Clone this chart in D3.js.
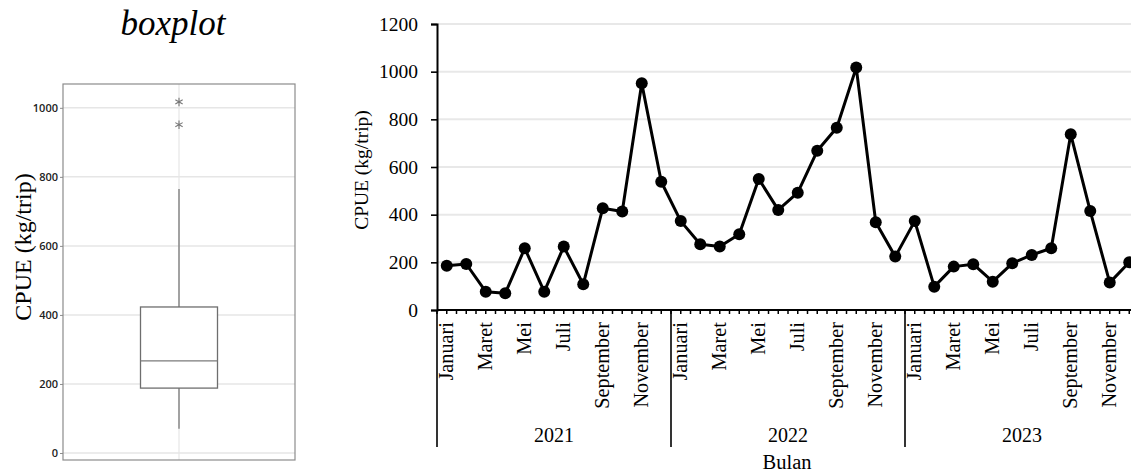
<!DOCTYPE html>
<html>
<head>
<meta charset="utf-8">
<script src="https://cdn.jsdelivr.net/npm/d3@7"></script>
<style>
  html, body { margin: 0; padding: 0; background: #fff; }
  svg { display: block; }
</style>
</head>
<body>
<svg id="chart" width="1131" height="474"></svg>
<script>
// ---------- DATA ----------
const months = ["Januari","Februari","Maret","April","Mei","Juni","Juli","Agustus","September","Oktober","November","Desember"];
const years = ["2021","2022","2023"];
const cpue = [
  186, 193, 77, 70, 259, 77, 266, 108, 427, 413, 951, 538,
  373, 276, 266, 318, 550, 420, 492, 668, 765, 1017, 368, 224,
  373, 98, 182, 192, 119, 196, 231, 259, 737, 415, 115, 200
];
const lineTicks = [0, 200, 400, 600, 800, 1000, 1200];

// boxplot statistics
const boxCategory = ["CPUE"];
const boxLowerWhisker = [70];
const boxQ1 = [188];
const boxMedian = [267];
const boxQ3 = [423];
const boxUpperWhisker = [765];
const boxOutliers = [951, 1017];
const boxTicks = [0, 200, 400, 600, 800, 1000];

const svg = d3.select("#chart");
const serif = "'Liberation Serif', 'Times New Roman', serif";
const sans = "'Open Sans', 'Noto Sans', sans-serif";
const fmt = d3.format("d");

// ---------- BOXPLOT PANEL ----------
const bp = {left: 63, right: 295, top: 84, bottom: 460};
const by = d3.scaleLinear().domain([-20.3, 1069]).range([bp.bottom, bp.top]);
const bx = d3.scalePoint().domain(boxCategory).range([bp.left, bp.right]).padding(0.5);
const boxW = 77;

svg.append("text")
  .attr("x", 173).attr("y", 35)
  .attr("text-anchor", "middle")
  .attr("font-family", serif).attr("font-style", "italic")
  .attr("font-size", 35).attr("fill", "#000")
  .text("boxplot");

const bg = svg.append("g");
bg.selectAll("line.hgrid").data(boxTicks).join("line")
  .attr("class", "hgrid")
  .attr("x1", bp.left).attr("x2", bp.right)
  .attr("y1", d => by(d)).attr("y2", d => by(d))
  .attr("stroke", "#e6e6e6").attr("stroke-width", 1.5);
bg.selectAll("line.vgrid").data(boxCategory).join("line")
  .attr("class", "vgrid")
  .attr("x1", d => bx(d)).attr("x2", d => bx(d))
  .attr("y1", bp.top).attr("y2", bp.bottom)
  .attr("stroke", "#e6e6e6").attr("stroke-width", 1.2);
bg.append("rect")
  .attr("x", bp.left).attr("y", bp.top)
  .attr("width", bp.right - bp.left).attr("height", bp.bottom - bp.top)
  .attr("fill", "none").attr("stroke", "#8c8c8c").attr("stroke-width", 1.2);
const bAxis = bg.append("g").attr("transform", `translate(${bp.left},0)`)
  .call(d3.axisLeft(by).tickValues(boxTicks).tickFormat(fmt).tickSize(3).tickPadding(2));
bAxis.select(".domain").remove();
bAxis.selectAll(".tick line").attr("stroke", "#8c8c8c");
bAxis.selectAll(".tick text")
  .attr("font-family", sans).attr("font-size", 11).attr("font-weight", 600).attr("fill", "#222");

boxCategory.forEach((c, i) => {
  const cx = bx(c);
  bg.append("line")
    .attr("x1", cx).attr("x2", cx)
    .attr("y1", by(boxQ3[i])).attr("y2", by(boxUpperWhisker[i]))
    .attr("stroke", "#6e6e6e").attr("stroke-width", 1.2);
  bg.append("line")
    .attr("x1", cx).attr("x2", cx)
    .attr("y1", by(boxQ1[i])).attr("y2", by(boxLowerWhisker[i]))
    .attr("stroke", "#6e6e6e").attr("stroke-width", 1.2);
  bg.append("rect")
    .attr("x", cx - boxW / 2).attr("y", by(boxQ3[i]))
    .attr("width", boxW).attr("height", by(boxQ1[i]) - by(boxQ3[i]))
    .attr("fill", "#fff").attr("stroke", "#6e6e6e").attr("stroke-width", 1.3);
  bg.append("line")
    .attr("x1", cx - boxW / 2).attr("x2", cx + boxW / 2)
    .attr("y1", by(boxMedian[i])).attr("y2", by(boxMedian[i]))
    .attr("stroke", "#7a7a7a").attr("stroke-width", 1.3);
  bg.selectAll("path.outlier").data(boxOutliers).join("path")
    .attr("class", "outlier")
    .attr("transform", d => `translate(${cx},${by(d)})`)
    .attr("d", d3.symbol(d3.symbolAsterisk, 50))
    .attr("fill", "none").attr("stroke", "#777").attr("stroke-width", 1.1);
});

svg.append("text")
  .attr("transform", `translate(31,247) rotate(-90)`)
  .attr("text-anchor", "middle")
  .attr("font-family", serif).attr("font-size", 24).attr("fill", "#000")
  .text("CPUE (kg/trip)");

// ---------- LINE CHART PANEL ----------
const lp = {left: 437, right: 1139, top: 24, bottom: 310};
const keys = [];
years.forEach(y => months.forEach((m, mi) => keys.push(y + "-" + mi)));
const x = d3.scaleBand().domain(keys).range([lp.left, lp.right]).padding(0);
const y = d3.scaleLinear().domain([0, 1200]).range([lp.bottom, lp.top]);
const data = keys.map((k, i) => ({key: k, year: years[Math.floor(i / 12)], month: months[i % 12], mi: i % 12, v: cpue[i]}));

const g = svg.append("g");
g.selectAll("line.grid").data(lineTicks.filter(d => d > 0)).join("line")
  .attr("class", "grid")
  .attr("x1", lp.left).attr("x2", 1131)
  .attr("y1", d => y(d)).attr("y2", d => y(d))
  .attr("stroke", "#e8e8e8").attr("stroke-width", 2);

const yAxis = g.append("g").attr("transform", `translate(${lp.left},0)`)
  .call(d3.axisLeft(y).tickValues(lineTicks).tickFormat(fmt).tickSize(6).tickPadding(13));
yAxis.select(".domain").attr("stroke", "#000").attr("stroke-width", 2);
yAxis.selectAll(".tick line").attr("stroke", "#000").attr("stroke-width", 1.6);
yAxis.selectAll(".tick text")
  .attr("font-family", serif).attr("font-size", 19.5).attr("fill", "#000");

g.append("line")
  .attr("x1", lp.left).attr("x2", 1131)
  .attr("y1", lp.bottom).attr("y2", lp.bottom)
  .attr("stroke", "#000").attr("stroke-width", 2);

const halfTicks = [];
keys.forEach(k => { halfTicks.push(x(k)); halfTicks.push(x(k) + x.bandwidth() / 2); });
g.selectAll("line.mtick").data(halfTicks).join("line")
  .attr("class", "mtick")
  .attr("x1", d => d).attr("x2", d => d)
  .attr("y1", lp.bottom).attr("y2", lp.bottom + 4)
  .attr("stroke", "#000").attr("stroke-width", 1.5);

g.selectAll("line.ysep").data(years.concat(["end"])).join("line")
  .attr("class", "ysep")
  .attr("x1", (d, i) => lp.left + i * 12 * x.step())
  .attr("x2", (d, i) => lp.left + i * 12 * x.step())
  .attr("y1", lp.bottom).attr("y2", 447)
  .attr("stroke", "#000").attr("stroke-width", 1.6);

g.selectAll("text.month").data(data.filter(d => d.mi % 2 === 0)).join("text")
  .attr("class", "month")
  .attr("transform", d => `translate(${x(d.key) + x.bandwidth() / 2 + 6.5},322) rotate(-90)`)
  .attr("text-anchor", "end")
  .attr("font-family", serif).attr("font-size", 20.3).attr("fill", "#000")
  .text(d => d.month);

g.selectAll("text.year").data(years).join("text")
  .attr("class", "year")
  .attr("x", (d, i) => lp.left + (i * 12 + 6) * x.step())
  .attr("y", 442)
  .attr("text-anchor", "middle")
  .attr("font-family", serif).attr("font-size", 20).attr("fill", "#000")
  .text(d => d);

svg.append("text")
  .attr("x", 787).attr("y", 469)
  .attr("text-anchor", "middle")
  .attr("font-family", serif).attr("font-size", 20.5).attr("fill", "#000")
  .text("Bulan");
svg.append("text")
  .attr("transform", `translate(368,170) rotate(-90)`)
  .attr("text-anchor", "middle")
  .attr("font-family", serif).attr("font-size", 19.5).attr("fill", "#000")
  .text("CPUE (kg/trip)");

const line = d3.line().x(d => x(d.key) + x.bandwidth() / 2).y(d => y(d.v));
g.append("path").datum(data)
  .attr("d", line)
  .attr("fill", "none").attr("stroke", "#000").attr("stroke-width", 3)
  .attr("stroke-linejoin", "round");
g.selectAll("circle.pt").data(data).join("circle")
  .attr("class", "pt")
  .attr("cx", d => x(d.key) + x.bandwidth() / 2)
  .attr("cy", d => y(d.v))
  .attr("r", 6)
  .attr("fill", "#000");
</script>
</body>
</html>
